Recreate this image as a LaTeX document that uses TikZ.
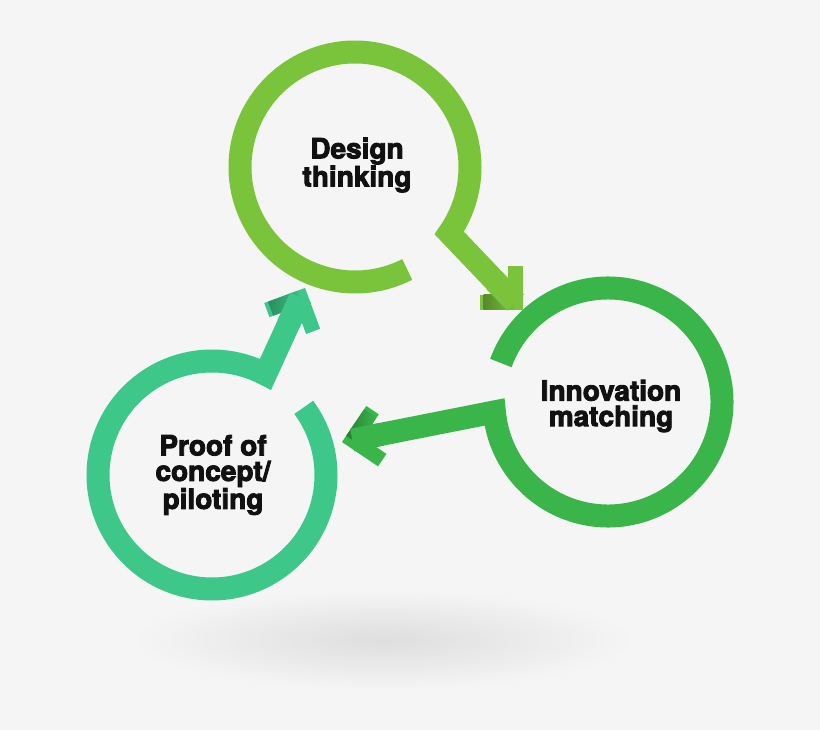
\documentclass[tikz,border=0pt]{standalone}
\usepackage{fontspec}
\setmainfont{TeX Gyre Heros}
\usepackage{xcolor}
\usepackage{tikz}
\usetikzlibrary{calc}
\definecolor{bg}{HTML}{F5F5F5}
\definecolor{lime}{HTML}{7AC43C}
\definecolor{leaf}{HTML}{39B54A}
\definecolor{mint}{HTML}{3DC788}
\definecolor{ink}{HTML}{111111}
% heavier letters: fill and stroke the glyphs
\newcommand\heavytext[1]{\special{pdf:literal direct 2 Tr 0.9 w}#1\special{pdf:literal direct 0 Tr}}
\tikzset{
  ring/.style={line width=23pt, line join=miter, line cap=butt},
  barb/.style={line width=15pt, line join=miter, line cap=butt},
  stage/.style={
    font=\bfseries\fontsize{28}{25.5}\selectfont,
    text=ink,
    align=center,
    inner sep=0pt
  }
}

\begin{document}
\begin{tikzpicture}[x=1pt, y=-1pt]
  \fill[bg] (0,0) rectangle (820,730);

  % soft shadow under the cycle
  \shade[inner color=black!13, outer color=bg] (383,640) ellipse [x radius=250, y radius=50];

  \coordinate (c1) at (355,167);
  \coordinate (c2) at (608,402);
  \coordinate (c3) at (212,475);

  % heads of the three arrows
  \coordinate (h1) at (515.5,302.5);
  \coordinate (h2) at (352.4,440);
  \coordinate (h3) at (300.6,297.6);

  % rings running into their arrows
  \draw[ring, lime] ($(c1)+(63:115)$) arc[start angle=63, end angle=395, radius=115] -- (h1);
  \draw[ring, leaf] ($(c2)+(200:114)$) arc[start angle=200, end angle=535, radius=114] -- (h2);
  \draw[ring, mint] ($(c3)+(323.6:114)$) arc[start angle=323.6, end angle=658, radius=114] -- (h3);

  \draw[barb, lime] ($(h1)+(270:36)$) -- (h1) -- ($(h1)+(180:36)$);
  \draw[barb, leaf] ($(h2)+(304:36)$) -- (h2) -- ($(h2)+(34:36)$);
  \draw[barb, mint] ($(h3)+(159.7:36)$) -- (h3) -- ($(h3)+(69.7:36)$);

  % folded look: darker arm under the shaft
  \shade[shift={(h1)}, rotate=-180, left color=lime!70!black, right color=lime] (0,-7.5) rectangle (32,7.5);
  \shade[shift={(h2)}, rotate=-304, left color=leaf!70!black, right color=leaf] (0,-7.5) rectangle (32,7.5);
  \shade[shift={(h3)}, rotate=-159.7, left color=mint!70!black, right color=mint] (0,-7.5) rectangle (32,7.5);
  \draw[ring, lime] ($(h1)+(225.7:30)$) -- (h1);
  \draw[ring, leaf] ($(h2)+(349:30)$) -- (h2);
  \draw[ring, mint] ($(h3)+(114.7:30)$) -- (h3);

  \node[stage] (design) at (357,165) {\heavytext{Design}\\\heavytext{thinking}};
  \node[stage] (matching) at (611,406) {\heavytext{Innovation}\\\heavytext{matching}};
  \node[stage] (proof) at (213,475) {\heavytext{Proof of}\\\heavytext{concept/}\\\heavytext{piloting}};
\end{tikzpicture}
\end{document}
